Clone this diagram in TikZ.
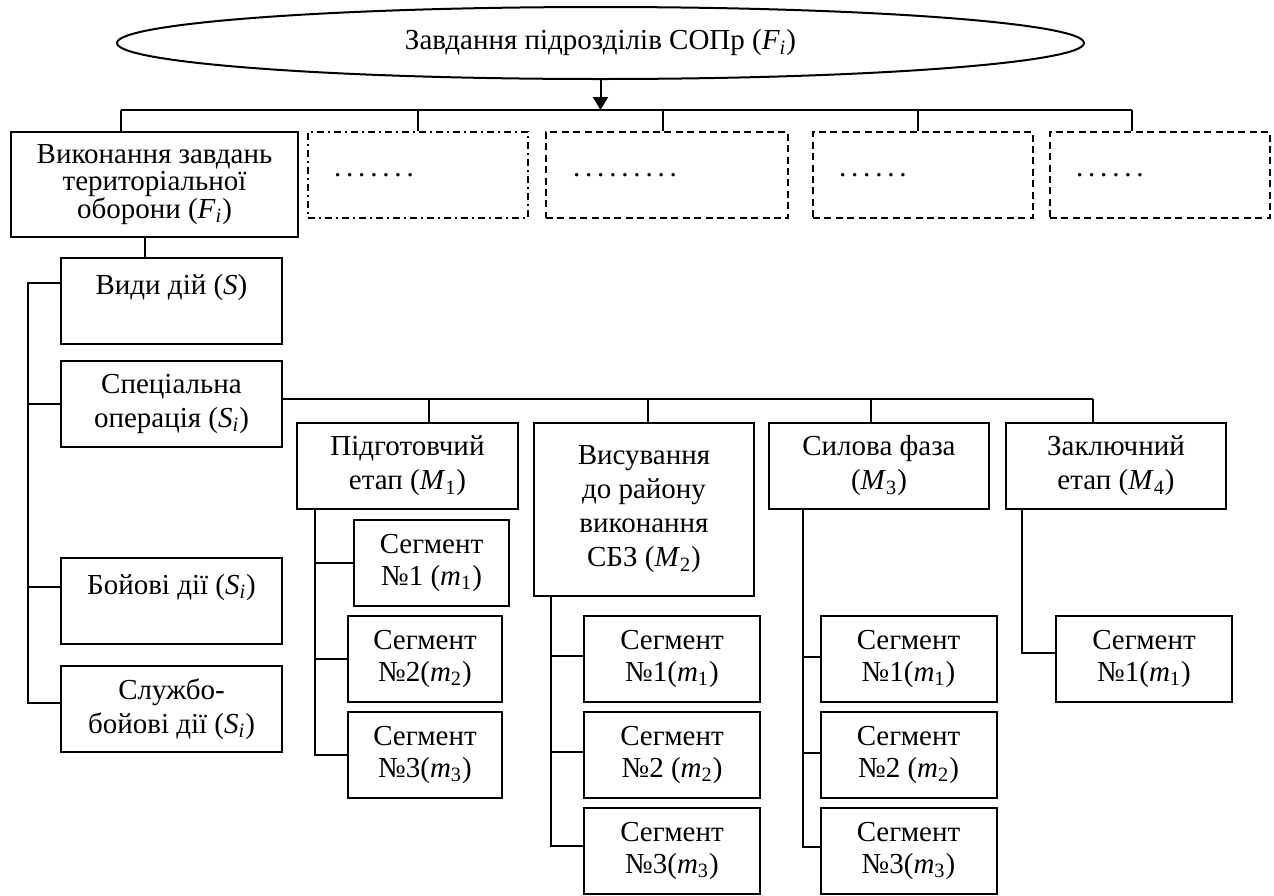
\documentclass[tikz,border=0pt]{standalone}
\usepackage{fontspec}
\setmainfont{Liberation Serif}
\usetikzlibrary{arrows.meta, shapes.geometric}

\newcommand{\idx}[2]{\textit{#1}\textsubscript{#2}}
\newcommand{\dotrow}[1]{\foreach \k in {2,...,#1}{.\,}.}

\begin{document}
\begin{tikzpicture}[
		x=0.5pt, y=-0.5pt,
		line width=1pt,
		every node/.style={font=\fontsize{14.5}{17}\selectfont},
		block/.style={
			draw,
			align=center,
			inner sep=0pt,
			minimum width=110.5pt,
			minimum height=43pt
		},
		seg/.style={
			block,
			minimum width=88pt,
			font=\fontsize{14.5}{16}\selectfont
		},
		spare/.style={
			draw,
			dashed,
			dash pattern=on 3.5pt off 2.2pt,
			minimum width=110pt,
			minimum height=43pt,
			inner sep=0pt
		},
		arrow/.style={-{Triangle[length=6.5pt,width=7.5pt]}}
		]
		
		\useasboundingbox (0,0) rectangle (1274,895);
		
		% Top level
		\node[draw, ellipse, inner sep=0pt, minimum width=483.5pt, minimum height=36pt] at (600.5,43) (task) {Завдання підрозділів СОПр (\idx{F}{\textit{i}})};
		
		\node[block, minimum width=143.5pt, minimum height=52.5pt, font=\fontsize{14.5}{13.75}\selectfont] at (154.5,184.5) (defence) {Виконання завдань\\територіальної\\оборони (\idx{F}{\textit{i}})};
		\node[spare, dash pattern=on 3.5pt off 2pt on 1pt off 2pt] at (417.5,175) (other1) {};
		\node[spare, minimum width=121pt] at (667,175) (other2) {};
		\node[spare] at (923,175) (other3) {};
		\node[spare] at (1160,175) (other4) {};
		\node[anchor=base west, inner sep=0pt] at (333,176) (dots1) {\dotrow{7}};
		\node[anchor=base west, inner sep=0pt] at (572,176) (dots2) {\dotrow{9}};
		\node[anchor=base west, inner sep=0pt] at (838,176) (dots3) {\dotrow{6}};
		\node[anchor=base west, inner sep=0pt] at (1075,176) (dots4) {\dotrow{6}};
		
		% Kinds of actions
		\node[block] at (171.5,301) (kinds) {Види дій (\textit{S})\\\mbox{}};
		\node[block] at (171.5,404) (special) {Спеціальна\\операція (\idx{S}{\textit{i}})};
		\node[block] at (171.5,601) (combat) {Бойові дії (\idx{S}{\textit{i}})\\\mbox{}};
		\node[block] at (171.5,709) (service) {Службо-\\бойові дії (\idx{S}{\textit{i}})};
		
		% Phases
		\node[block] at (407.5,466) (prep) {Підготовчий\\етап (\idx{M}{1})};
		\node[block, minimum width=110pt, minimum height=86.5pt] at (644,509.5) (advance) {Висування\\до району\\виконання\\СБЗ (\idx{M}{2})};
		\node[block, minimum width=110pt] at (879,466) (force) {Силова фаза\\(\idx{M}{3})};
		\node[block, minimum width=110pt] at (1116,466) (final) {Заключний\\етап (\idx{M}{4})};
		
		% Segments
		\node[seg, minimum width=77.5pt] at (431.5,563) (p1) {Сегмент\\№1 (\idx{m}{1})};
		\node[seg, minimum width=77pt] at (425,659) (p2) {Сегмент\\№2(\idx{m}{2})};
		\node[seg, minimum width=77pt] at (425,755) (p3) {Сегмент\\№3(\idx{m}{3})};
		
		\node[seg] at (672,659) (a1) {Сегмент\\№1(\idx{m}{1})};
		\node[seg] at (672,755) (a2) {Сегмент\\№2 (\idx{m}{2})};
		\node[seg] at (672,850.5) (a3) {Сегмент\\№3(\idx{m}{3})};
		
		\node[seg] at (908.5,659) (f1) {Сегмент\\№1(\idx{m}{1})};
		\node[seg] at (908.5,755) (f2) {Сегмент\\№2 (\idx{m}{2})};
		\node[seg] at (908.5,850.5) (f3) {Сегмент\\№3(\idx{m}{3})};
		
		\node[seg] at (1144,659) (fs1) {Сегмент\\№1(\idx{m}{1})};
		
		% Connectors, top
		\coordinate (busL) at (121,110);
		\coordinate (busR) at (1132,110);
		\draw (busL) -- (busR);
		\draw[arrow] (task.south) -- (task.south |- busL);
		\foreach \x/\n in {121/defence, 418/other1, 663/other2, 918/other3, 1132/other4}
			\draw (\x,110) -- (\x,110 |- \n.north);
		
		% Connectors, kinds
		\coordinate (lbus) at (28,283);
		\draw (145,0 |- defence.south) -- (145,0 |- kinds.north);
		\draw ([yshift=9pt]kinds.west) -- (lbus) |- ([yshift=3pt]service.west);
		\draw (special.west) -- (special.west -| lbus);
		\draw ([yshift=7pt]combat.west) -- ([yshift=7pt]combat.west -| lbus);
		
		% Connectors, phases
		\coordinate (pbus) at ([yshift=2.5pt]special.east);
		\draw (pbus) -- (pbus -| 1093,0);
		\foreach \x/\n in {429/prep, 648/advance, 871/force, 1093/final}
			\draw (\x,0 |- pbus) -- (\x,0 |- \n.north);
		
		% Connectors, segments
		\draw (315,0 |- prep.south) |- (p3.west);
		\foreach \n in {p1, p2}
			\draw (\n.west) -- (\n.west -| 315,0);
		\draw (551,0 |- advance.south) |- ([yshift=2.5pt]a3.west);
		\foreach \n in {a1, a2}
			\draw ([yshift=1.5pt]\n.west) -- ([yshift=1.5pt]\n.west -| 551,0);
		\draw (803,0 |- force.south) |- ([yshift=2pt]f3.west);
		\foreach \n in {f1, f2}
			\draw ([yshift=1pt]\n.west) -- ([yshift=1pt]\n.west -| 803,0);
		\draw (1022,0 |- final.south) |- ([yshift=3pt]fs1.west);
		
	\end{tikzpicture}
\end{document}
